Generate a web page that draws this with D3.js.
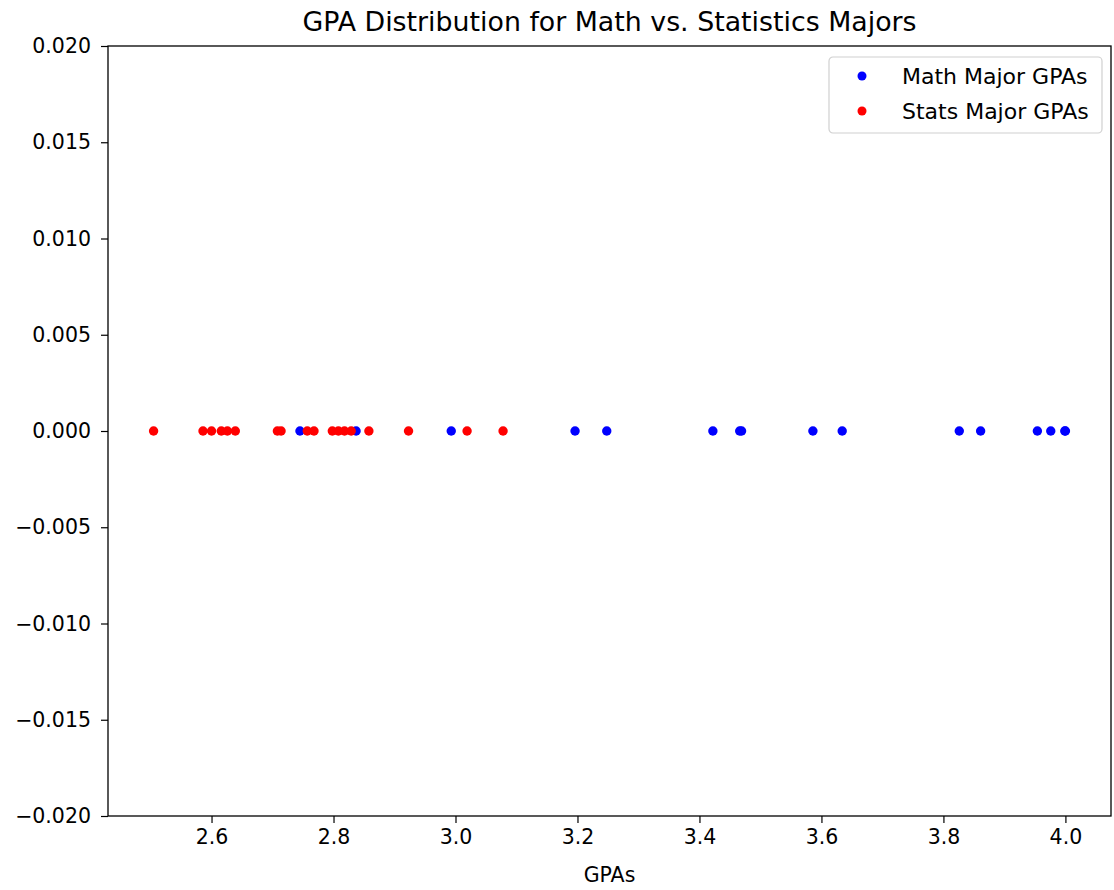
<!DOCTYPE html>
<html>
<head>
<meta charset="utf-8">
<script src="https://cdn.jsdelivr.net/npm/d3@7"></script>
<style>
  body { margin: 0; background: #fff; }
  text { font-family: "DejaVu Sans", sans-serif; fill: #000; }
</style>
</head>
<body>
<div id="chart"></div>
<script>
// GPA values (all plotted at y = 0)
var mathGPAs = [2.745, 2.837, 2.993, 3.196, 3.248, 3.422, 3.466, 3.469, 3.586, 3.634,
                3.826, 3.861, 3.954, 3.976, 3.999, 4.0];
var statsGPAs = [2.505, 2.586, 2.600, 2.616, 2.626, 2.639, 2.708, 2.714, 2.757, 2.768,
                 2.798, 2.808, 2.818, 2.829, 2.858, 2.923, 3.019, 3.078];
var xTicks = [2.6, 2.8, 3.0, 3.2, 3.4, 3.6, 3.8, 4.0];
var yTicks = [-0.020, -0.015, -0.010, -0.005, 0.000, 0.005, 0.010, 0.015, 0.020];
var seriesNames = ["Math Major GPAs", "Stats Major GPAs"];
var seriesColors = ["#0000ff", "#ff0000"];

// set the dimensions and margins of the graph
var margin = {top: 46, right: 3, bottom: 74, left: 108},
    width = 1114 - margin.left - margin.right,
    height = 890 - margin.top - margin.bottom;

var svg = d3.select("#chart")
    .append("svg")
    .attr("width", 1114)
    .attr("height", 890)
    .append("g")
    .attr("transform", "translate(" + margin.left + "," + margin.top + ")");

// x domain with matplotlib-style 5% padding
var all = mathGPAs.concat(statsGPAs);
var lo = d3.min(all), hi = d3.max(all), pad = (hi - lo) * 0.05;
var x = d3.scaleLinear().domain([lo - pad, hi + pad]).range([0, width]);
var y = d3.scaleLinear().domain([-0.02, 0.02]).range([height, 0]);

// axes
var xAxis = svg.append("g")
    .attr("transform", "translate(0," + height + ")")
    .call(d3.axisBottom(x).tickValues(xTicks).tickFormat(d3.format(".1f")).tickSize(7).tickPadding(6));
var yAxis = svg.append("g")
    .call(d3.axisLeft(y).tickValues(yTicks).tickFormat(d3.format(".3f")).tickSize(7).tickPadding(10));

svg.selectAll(".tick text").style("font-size", "20.5px").attr("fill", "#000");
svg.selectAll(".tick line").attr("stroke", "#000").attr("stroke-width", 1.2);
svg.selectAll(".domain").remove();

// frame
svg.append("rect")
    .attr("width", width).attr("height", height)
    .attr("fill", "none").attr("stroke", "#000").attr("stroke-width", 1.3);

// points: math first, stats drawn on top
var series = [mathGPAs, statsGPAs];
series.forEach(function(vals, i) {
    svg.append("g").selectAll("circle")
        .data(vals)
        .enter().append("circle")
        .attr("cx", function(d) { return x(d); })
        .attr("cy", y(0))
        .attr("r", 4.7)
        .attr("fill", seriesColors[i]);
});

// title and label
svg.append("text")
    .attr("x", width / 2).attr("y", -15)
    .attr("text-anchor", "middle")
    .style("font-size", "26.8px")
    .text("GPA Distribution for Math vs. Statistics Majors");
svg.append("text")
    .attr("x", width / 2).attr("y", height + 66)
    .attr("text-anchor", "middle")
    .style("font-size", "20.5px")
    .text("GPAs");

// legend
var legend = svg.append("g").attr("transform", "translate(" + (width - 282) + ",11)");
legend.append("rect")
    .attr("width", 273).attr("height", 76)
    .attr("rx", 4)
    .attr("fill", "#fff").attr("fill-opacity", 0.8)
    .attr("stroke", "#d0d0d0").attr("stroke-width", 1.2);
seriesNames.forEach(function(name, i) {
    var row = legend.append("g").attr("transform", "translate(0," + (19 + i * 35) + ")");
    row.append("circle").attr("cx", 33).attr("cy", 0).attr("r", 4.5).attr("fill", seriesColors[i]);
    row.append("text").attr("x", 73).attr("y", 0).attr("dy", "0.35em")
        .style("font-size", "22px").text(name);
});
</script>
</body>
</html>
